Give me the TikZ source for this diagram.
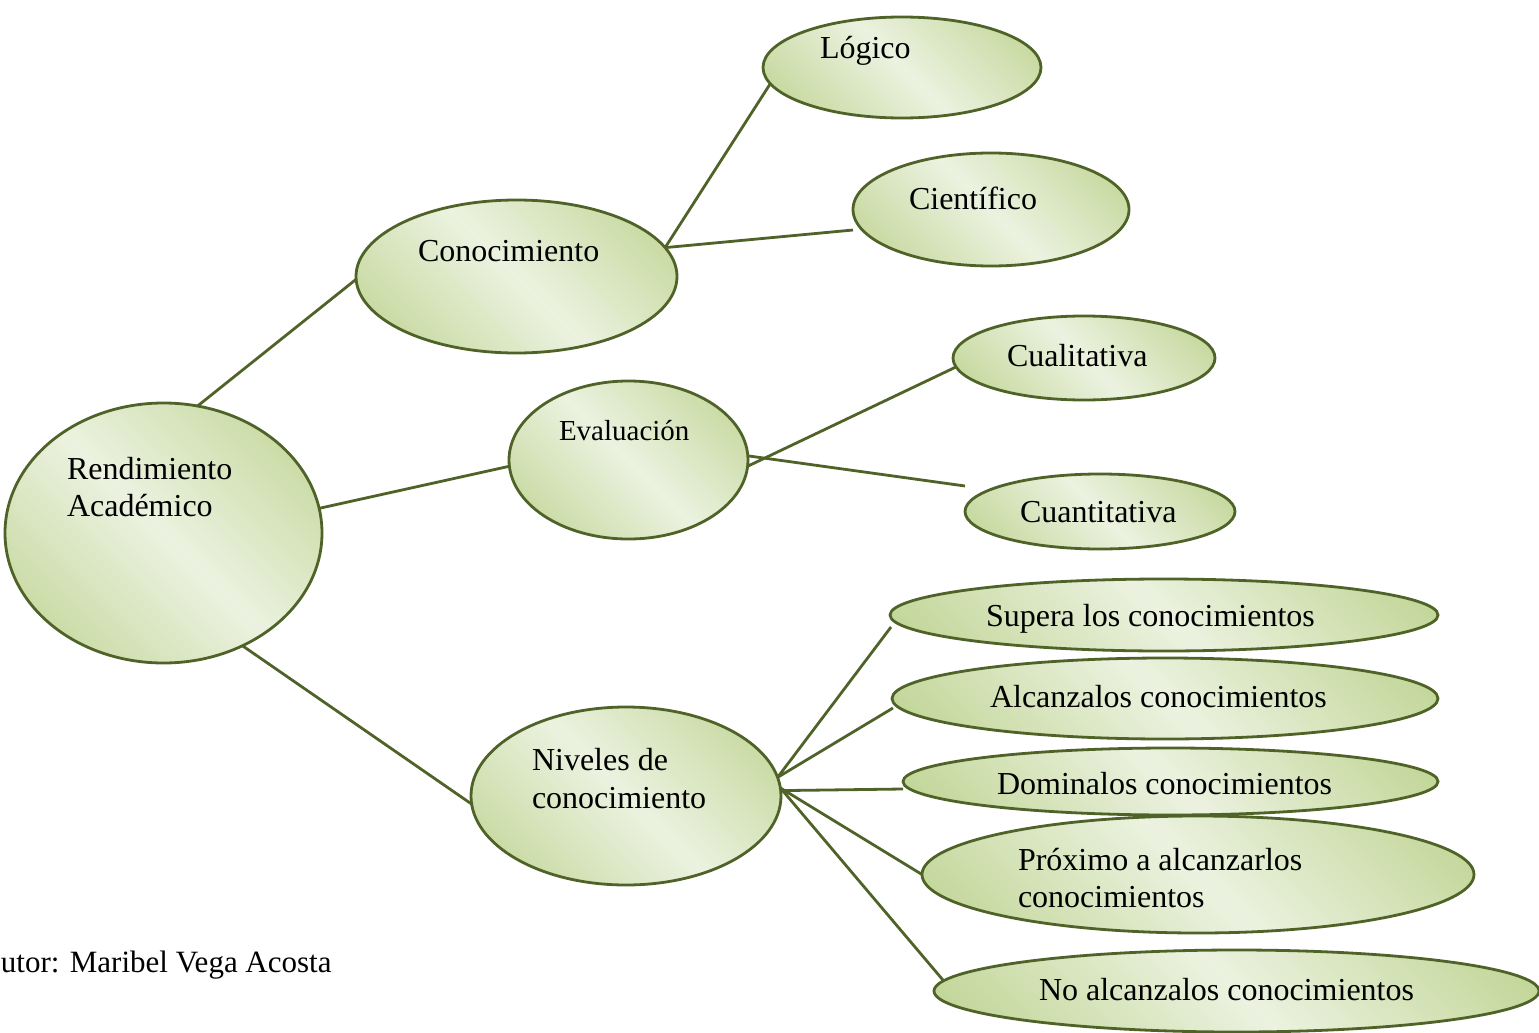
\documentclass[tikz,border=0pt]{standalone}
\usepackage{fontspec}
\setmainfont{Liberation Serif}
\usetikzlibrary{shapes.geometric}
\definecolor{dk}{RGB}{194,214,152}
\definecolor{lt}{RGB}{236,242,224}
\definecolor{olive}{RGB}{79,98,40}
\pgfdeclarehorizontalshading{olivegrad}{100bp}{color(0bp)=(dk); color(18bp)=(dk); color(50bp)=(lt); color(82bp)=(dk); color(100bp)=(dk)}
\tikzset{
  ell/.style={ellipse, draw=olive, line width=2.8pt, shading=olivegrad, shading angle=45, inner sep=0pt, outer sep=0pt},
  lbl/.style={anchor=base west, inner sep=0pt, outer sep=0pt, align=left, font=\fontsize{32}{37}\selectfont},
  conn/.style={draw=olive, line width=2.8pt}
}
\begin{document}
\begin{tikzpicture}[x=1pt,y=-1pt]
\useasboundingbox (0,0) rectangle (1539,1033);
% ellipses
\node[ell, minimum width=317pt, minimum height=260pt] (ra) at (163.5,533) {};
\node[ell, minimum width=321pt, minimum height=153pt] (co) at (516.5,276.5) {};
\node[ell, minimum width=239pt, minimum height=158pt] (ev) at (628.5,460) {};
\node[ell, minimum width=310pt, minimum height=178pt] (ni) at (626,796) {};
\node[ell, minimum width=278pt, minimum height=101pt] (lo) at (902,67.5) {};
\node[ell, minimum width=276pt, minimum height=113pt] (ci) at (991,209.5) {};
\node[ell, minimum width=262pt, minimum height=84pt] (cl) at (1084,358) {};
\node[ell, minimum width=270pt, minimum height=75pt] (cu) at (1100,511.5) {};
\node[ell, minimum width=548pt, minimum height=72pt] (su) at (1164,615) {};
\node[ell, minimum width=546pt, minimum height=81pt] (al) at (1165,698.5) {};
\node[ell, minimum width=535pt, minimum height=67pt] (do) at (1170.5,781.5) {};
\node[ell, minimum width=552pt, minimum height=117pt] (pr) at (1198,874.5) {};
\node[ell, minimum width=605pt, minimum height=82pt] (na) at (1236.5,991) {};
% free connector ends
\coordinate (ciend) at (853,230);
\coordinate (cuend) at (965,486);
\coordinate (doend) at (903,789);
\coordinate (suend) at (891,627);
\coordinate (alend) at (893,708);
% texts
\node[lbl] (tra) at (67,516) {Rendimiento\\Académico};
\node[lbl] (tco) at (418,261) {Conocimiento};
\node[lbl, font=\fontsize{29}{35}\selectfont] (tev) at (559,440) {Evaluación};
\node[lbl, font=\fontsize{32}{38}\selectfont] (tni) at (532,808) {Niveles de\\conocimiento};
\node[lbl] (tlo) at (820,59) {Lógico};
\node[lbl] (tci) at (909,209) {Científico};
\node[lbl] (tcl) at (1007,366) {Cualitativa};
\node[lbl] (tcu) at (1020,522) {Cuantitativa};
\node[lbl] (tsu) at (986,626) {Supera los conocimientos};
\node[lbl] (tal) at (990,707) {Alcanzalos conocimientos};
\node[lbl] (tdo) at (997,794) {Dominalos conocimientos};
\node[lbl] (tpr) at (1018,907) {Próximo a alcanzarlos\\conocimientos};
\node[lbl] (tna) at (1039,1000) {No alcanzalos conocimientos};
\node[lbl, font=\fontsize{31}{37}\selectfont] (aut) at (1,972) {utor: Maribel Vega Acosta};
% connectors
\draw[conn] (ra.75) -- (co.181);
\draw[conn] (ra.9) -- (ev.183);
\draw[conn] (ra.-55) -- (ni.183);
\draw[conn] (co.11) -- (lo.187);
\draw[conn] (co.11) -- (ciend);
\draw[conn] (ev.-3.4) -- (cl.184.4);
\draw[conn] (ev.2.4) -- (cuend);
\draw[conn] (ni.7) -- (suend);
\draw[conn] (ni.7) -- (alend);
\draw[conn] (ni.2.6) -- (doend);
\draw[conn] (ni.3) -- (pr.180);
\draw[conn] (ni.3) -- (na.178.9);
\end{tikzpicture}
\end{document}
